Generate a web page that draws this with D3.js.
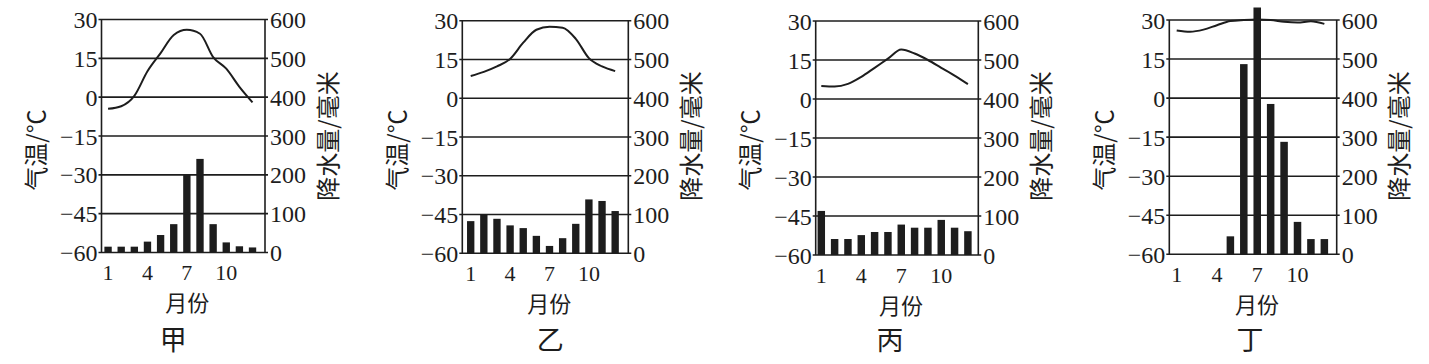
<!DOCTYPE html>
<html>
<head>
<meta charset="utf-8">
<script src="https://cdn.jsdelivr.net/npm/d3@7"></script>
<style>
  body { margin: 0; background: #fff; }
  svg { display: block; }
</style>
</head>
<body>
<div id="chart"></div>
<script>
// months and tick labels
const months = [1, 2, 3, 4, 5, 6, 7, 8, 9, 10, 11, 12];
const monthTicks = [1, 4, 7, 10];
const tempTicks = [30, 15, 0, -15, -30, -45, -60];
const precTicks = [600, 500, 400, 300, 200, 100, 0];

// 甲
const tempJia = [-4.5, -3.5, 0.5, 10, 17, 24, 26, 24.5, 15.5, 11, 4, -2];
const precJia = [15, 15, 15, 28, 45, 73, 200, 241, 73, 26, 16, 13];
// 乙
const tempYi = [8.6, 10.2, 12.3, 15.2, 21.5, 26.5, 27.7, 27.3, 23, 15.5, 12.3, 10.5];
const precYi = [83, 100, 89, 72, 65, 45, 19, 39, 76, 139, 135, 109];
// 丙
const tempBing = [5, 4.8, 5.8, 8.5, 12, 15.5, 19, 17.5, 15, 12, 9, 5.7];
const precBing = [113, 41, 41, 51, 59, 59, 78, 70, 70, 90, 70, 61];
// 丁
const tempDing = [26, 25.5, 26.3, 28, 29.6, 30, 30.2, 30, 29.3, 29, 29.5, 28.5];
const precDing = [0, 0, 0, 0, 46, 487, 632, 385, 288, 83, 39, 39];

const titles = ["甲", "乙", "丙", "丁"];

const W = 1429, H = 364;
const ink = "#1d1d1d";
const serif = "'Liberation Serif', 'Times New Roman', serif";
const cjk = "'Noto Sans CJK SC', sans-serif";

let svg = d3.select("#chart").append("svg")
    .attr("width", W)
    .attr("height", H);

// plot frames
let panels = [
  {title: titles[0], temp: tempJia,  prec: precJia,  left: 101.5,  right: 265,    top: 19.5, bottom: 252.5, lo: 0.5,  hi: 12.95, titleDx: -10},
  {title: titles[1], temp: tempYi,   prec: precYi,   left: 462.3,  right: 628.3,  top: 20.7, bottom: 253.3, lo: 0.36, hi: 13.0,  titleDx: 5},
  {title: titles[2], temp: tempBing, prec: precBing, left: 815.7,  right: 978.3,  top: 21,   bottom: 255,   lo: 0.58, hi: 12.78, titleDx: -7},
  {title: titles[3], temp: tempDing, prec: precDing, left: 1169.3, right: 1336.7, top: 20,   bottom: 254.3, lo: 0.45, hi: 12.92, titleDx: -3}
];

panels.forEach(function(p){

  let x = d3.scaleLinear().domain([p.lo, p.hi]).range([p.left, p.right]);
  let yT = d3.scaleLinear().domain([-60, 30]).range([p.bottom, p.top]);
  let yP = d3.scaleLinear().domain([0, 600]).range([p.bottom, p.top]);
  let step = x(2) - x(1);
  let bw = step * 0.56;

  let g = svg.append("g");

  // precipitation bars
  g.selectAll(".bar")
      .data(p.prec)
    .enter().append("rect")
      .attr("class", "bar")
      .attr("x", function(d,i){ return x(months[i]) - bw/2; })
      .attr("y", function(d){ return yP(d); })
      .attr("width", bw)
      .attr("height", function(d){ return yP(0) - yP(d); })
      .attr("fill", ink)
      .attr("opacity", function(d){ return d > 0 ? 1 : 0; });

  // grid lines every 15 degrees (sticking out a little past the frame)
  g.selectAll(".grid")
      .data(tempTicks)
    .enter().append("line")
      .attr("class", "grid")
      .attr("x1", p.left - 3)
      .attr("x2", p.right + 3)
      .attr("y1", function(d){ return yT(d); })
      .attr("y2", function(d){ return yT(d); })
      .attr("stroke", ink)
      .attr("stroke-width", 1.6);

  // frame sides
  g.append("line")
      .attr("x1", p.left).attr("x2", p.left)
      .attr("y1", p.top).attr("y2", p.bottom)
      .attr("stroke", ink).attr("stroke-width", 1.6);
  g.append("line")
      .attr("x1", p.right).attr("x2", p.right)
      .attr("y1", p.top).attr("y2", p.bottom)
      .attr("stroke", ink).attr("stroke-width", 1.6);

  // temperature curve
  let line = d3.line()
      .x(function(d,i){ return x(months[i]); })
      .y(function(d){ return yT(d); })
      .curve(d3.curveMonotoneX);

  g.append("path")
      .datum(p.temp)
      .attr("d", line)
      .attr("fill", "none")
      .attr("stroke", ink)
      .attr("stroke-width", 2);

  // left tick labels
  g.selectAll(".tl")
      .data(tempTicks)
    .enter().append("text")
      .attr("class", "tl")
      .attr("x", p.left - 4)
      .attr("y", function(d){ return yT(d); })
      .attr("dy", "0.36em")
      .style("text-anchor", "end")
      .style("font-family", serif)
      .style("font-size", "24px")
      .attr("fill", ink)
      .text(function(d){ return d < 0 ? "\u2212" + Math.abs(d) : d; });

  // right tick labels
  g.selectAll(".tr")
      .data(precTicks)
    .enter().append("text")
      .attr("class", "tr")
      .attr("x", p.right + 5)
      .attr("y", function(d){ return yP(d); })
      .attr("dy", "0.36em")
      .style("text-anchor", "start")
      .style("font-family", serif)
      .style("font-size", "24px")
      .attr("fill", ink)
      .text(function(d){ return d; });

  // month labels
  g.selectAll(".tm")
      .data(monthTicks)
    .enter().append("text")
      .attr("class", "tm")
      .attr("x", function(d){ return x(d); })
      .attr("y", p.bottom + 20)
      .attr("dy", "0.36em")
      .style("text-anchor", "middle")
      .style("font-family", serif)
      .style("font-size", "22px")
      .attr("fill", ink)
      .text(function(d){ return d; });

  let mid = (p.left + p.right) / 2;

  g.append("text")
      .attr("x", mid + 4)
      .attr("y", p.bottom + 51)
      .attr("dy", "0.36em")
      .style("text-anchor", "middle")
      .style("font-family", cjk)
      .style("font-size", "22px")
      .attr("fill", ink)
      .text("月份");

  g.append("text")
      .attr("x", mid + p.titleDx)
      .attr("y", 340)
      .attr("dy", "0.36em")
      .style("text-anchor", "middle")
      .style("font-family", cjk)
      .style("font-size", "27px")
      .attr("fill", ink)
      .text(p.title);

  // axis titles, rotated
  g.append("text")
      .attr("transform", "translate(" + (p.left - 65) + "," + 150 + ") rotate(-90)")
      .attr("dy", "0.36em")
      .style("text-anchor", "middle")
      .style("font-family", cjk)
      .style("font-size", "24px")
      .attr("fill", ink)
      .text("气温/℃");

  g.append("text")
      .attr("transform", "translate(" + (p.right + 63) + "," + 136 + ") rotate(-90)")
      .attr("dy", "0.36em")
      .style("text-anchor", "middle")
      .style("font-family", cjk)
      .style("font-size", "24px")
      .attr("fill", ink)
      .text("降水量/毫米");
});
</script>
</body>
</html>
